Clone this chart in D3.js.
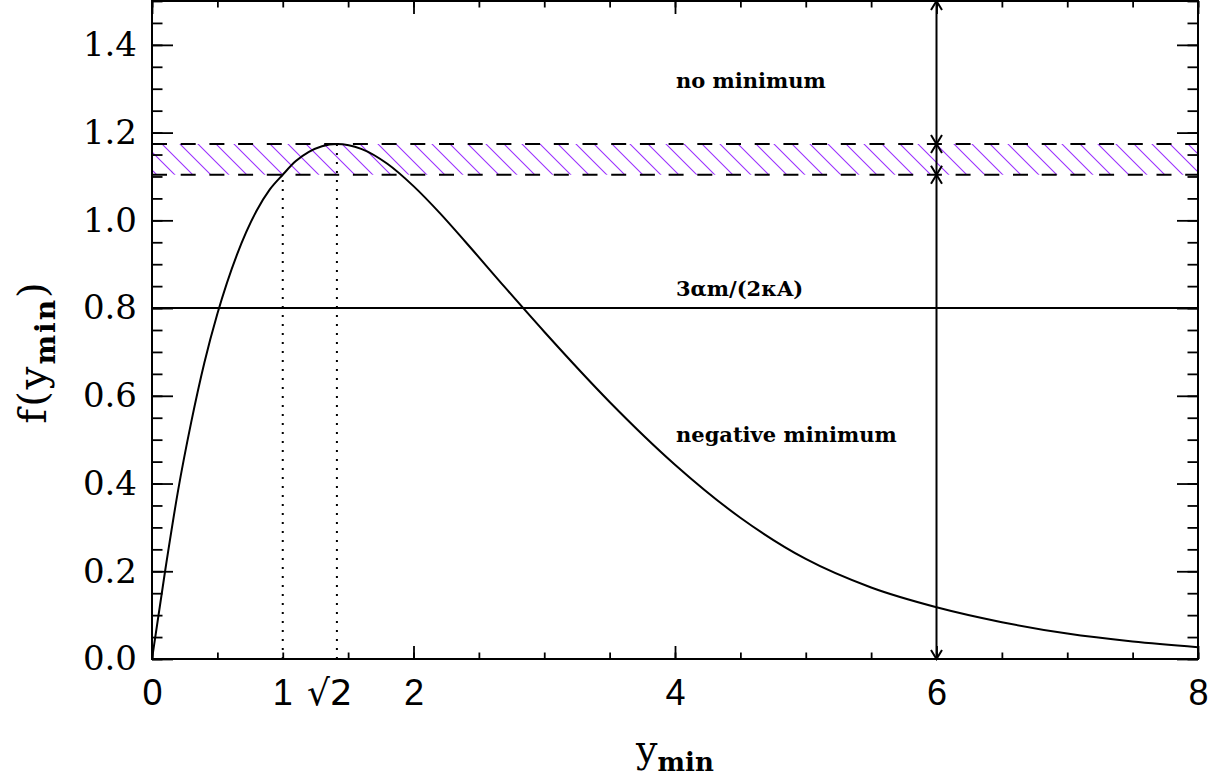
<!DOCTYPE html>
<html>
<head>
<meta charset="utf-8">
<style>
    body { margin: 0; background: #fff; }
    .tick line { stroke: #000; stroke-width: 1.8px; }
    .frame { fill: none; stroke: #000; stroke-width: 2px; }
    .ylab text { font: 34px "DejaVu Serif", serif; fill: #000; }
    .xlab text { font: 36px "Liberation Sans", Arial, sans-serif; fill: #000; }
    .note { font: bold 21px "DejaVu Serif", serif; fill: #000; }
</style>
</head>
<body>
<svg width="1221" height="782"></svg>
<script src="https://cdn.jsdelivr.net/npm/d3@7/dist/d3.min.js"></script>
<script>
// curve f(y_min)
var yMin = [0, 0.1, 0.2, 0.3, 0.4, 0.5, 0.65, 0.8, 0.9, 1.0, 1.1, 1.2, 1.3, 1.414,
            1.6, 1.8, 2.0, 2.2, 2.4, 2.7, 3.0, 3.5, 4.0, 4.5, 5.0, 5.5, 6.0, 6.5, 7.0, 7.5, 8.0];
var fVal = [0, 0.2, 0.385, 0.54, 0.675, 0.787, 0.922, 1.022, 1.07, 1.104, 1.135, 1.156, 1.169, 1.174,
            1.163, 1.129, 1.078, 1.017, 0.95, 0.847, 0.746, 0.586, 0.443, 0.322, 0.228, 0.163, 0.118,
            0.084, 0.058, 0.04, 0.027];

var xTicks = [0, 2, 4, 6, 8];
var xTickLabels = ["0", "2", "4", "6", "8"];
var yTicks = [0, 0.2, 0.4, 0.6, 0.8, 1.0, 1.2, 1.4];
var yTickLabels = ["0.0", "0.2", "0.4", "0.6", "0.8", "1.0", "1.2", "1.4"];

var guideX = [1, Math.SQRT2];       // dotted lines
var guideTop = [1.104, 1.174];
var bandLow = 1.104, bandHigh = 1.174;
var threshold = 0.8;
var arrowX = 6;
var notes = ["no minimum", "3\u03b1m/(2\u03baA)", "negative minimum"];

var svg = d3.select("svg"),
    pl = 152, pr = 1198, pt = 1, pb = 659;

var x = d3.scaleLinear().domain([0, 8]).range([pl, pr]);
var y = d3.scaleLinear().domain([0, 1.5]).range([pb, pt]);

var xMinor = d3.range(0, 8.001, 0.5),
    yMinor = d3.range(0, 1.5001, 0.05);

// hatch pattern
var defs = svg.append("defs");
defs.append("pattern")
    .attr("id", "hatch")
    .attr("patternUnits", "userSpaceOnUse")
    .attr("width", 18).attr("height", 18)
  .append("path")
    .attr("d", "M-2,-2L20,20M-20,-2L2,20M16,-2L38,20")
    .attr("stroke", "#9b30ff")
    .attr("stroke-width", 1.1);
defs.append("clipPath").attr("id", "plot")
  .append("rect").attr("x", pl).attr("y", pt).attr("width", pr - pl).attr("height", pb - pt);

// band
svg.append("rect")
    .attr("x", pl).attr("width", pr - pl)
    .attr("y", y(bandHigh)).attr("height", y(bandLow) - y(bandHigh))
    .attr("fill", "url(#hatch)");
svg.selectAll(".dash")
    .data([bandLow, bandHigh])
    .enter().append("line")
    .attr("x1", pl).attr("x2", pr)
    .attr("y1", function(d) { return y(d); })
    .attr("y2", function(d) { return y(d); })
    .attr("stroke", "#000").attr("stroke-width", 2)
    .attr("stroke-dasharray", "15,13.7");

// threshold line
svg.append("line")
    .attr("x1", pl).attr("x2", pr)
    .attr("y1", y(threshold)).attr("y2", y(threshold))
    .attr("stroke", "#000").attr("stroke-width", 2);

// dotted guides
svg.selectAll(".guide")
    .data(guideX)
    .enter().append("line")
    .attr("x1", function(d) { return x(d); })
    .attr("x2", function(d) { return x(d); })
    .attr("y1", y(0))
    .attr("y2", function(d, i) { return y(guideTop[i]); })
    .attr("stroke", "#000").attr("stroke-width", 2)
    .attr("stroke-dasharray", "2,7");

// curve
var line = d3.line()
    .x(function(d, i) { return x(yMin[i]); })
    .y(function(d) { return y(d); })
    .curve(d3.curveMonotoneX);
svg.append("path")
    .datum(fVal)
    .attr("d", line)
    .attr("fill", "none")
    .attr("stroke", "#000")
    .attr("stroke-width", 2)
    .attr("clip-path", "url(#plot)");

// arrows at x = 6
var ax = x(arrowX);
svg.append("line")
    .attr("x1", ax).attr("x2", ax)
    .attr("y1", y(1.5)).attr("y2", y(0))
    .attr("stroke", "#000").attr("stroke-width", 2);
var heads = [[1.5, -1], [bandHigh, 1], [bandHigh, -1], [bandLow, 1], [bandLow, -1], [0, 1]];
svg.selectAll(".head")
    .data(heads)
    .enter().append("path")
    .attr("d", function(d) {
        var py = y(d[0]), s = d[1] * 9;   // s>0 : pointing down
        return "M" + (ax - 5.5) + "," + (py - s) + "L" + ax + "," + py + "L" + (ax + 5.5) + "," + (py - s);
    })
    .attr("fill", "none").attr("stroke", "#000").attr("stroke-width", 2);

// axes
function strip(g) { g.select(".domain").remove(); }

svg.append("g").attr("transform", "translate(0," + pb + ")")
    .call(d3.axisBottom(x).tickValues(xMinor).tickSize(-6.5).tickFormat("")).call(strip);
svg.append("g").attr("class", "xlab").attr("transform", "translate(0," + pb + ")")
    .call(d3.axisBottom(x).tickValues(xTicks).tickSize(-13).tickPadding(20)
        .tickFormat(function(d, i) { return xTickLabels[i]; })).call(strip);
svg.append("g").attr("transform", "translate(0," + pt + ")")
    .call(d3.axisTop(x).tickValues(xMinor).tickSize(-6.5).tickFormat("")).call(strip);
svg.append("g").attr("transform", "translate(0," + pt + ")")
    .call(d3.axisTop(x).tickValues(xTicks).tickSize(-13).tickFormat("")).call(strip);

svg.append("g").attr("transform", "translate(" + pl + ",0)")
    .call(d3.axisLeft(y).tickValues(yMinor).tickSize(-10.5).tickFormat("")).call(strip);
svg.append("g").attr("class", "ylab").attr("transform", "translate(" + pl + ",0)")
    .call(d3.axisLeft(y).tickValues(yTicks).tickSize(-21).tickPadding(15)
        .tickFormat(function(d, i) { return yTickLabels[i]; })).call(strip);
svg.append("g").attr("transform", "translate(" + pr + ",0)")
    .call(d3.axisRight(y).tickValues(yMinor).tickSize(-10.5).tickFormat("")).call(strip);
svg.append("g").attr("transform", "translate(" + pr + ",0)")
    .call(d3.axisRight(y).tickValues(yTicks).tickSize(-21).tickFormat("")).call(strip);

svg.append("rect").attr("class", "frame")
    .attr("x", pl).attr("y", pt).attr("width", pr - pl).attr("height", pb - pt);

// extra labels under the guides
svg.append("text")
    .attr("x", x(guideX[0])).attr("y", 705)
    .attr("text-anchor", "middle")
    .style("font", "36px 'Liberation Sans', Arial, sans-serif")
    .text("1");
svg.append("text")
    .attr("x", x(guideX[1]) - 30).attr("y", 705)
    .style("font", "36px 'DejaVu Sans', sans-serif")
    .text("\u221a2");

// annotations
var noteY = [88, 296, 442];
svg.selectAll(".note")
    .data(notes)
    .enter().append("text")
    .attr("class", "note")
    .attr("x", 676)
    .attr("y", function(d, i) { return noteY[i]; })
    .text(function(d) { return d; });

// axis titles
var xt = svg.append("text")
    .attr("x", (pl + pr) / 2).attr("y", 762)
    .attr("text-anchor", "middle")
    .style("font", "38px 'DejaVu Serif', serif");
xt.append("tspan").text("y");
xt.append("tspan").attr("dy", 9).style("font", "bold 26px 'DejaVu Serif', serif").text("min");

var yt = svg.append("text")
    .attr("transform", "translate(46,352) rotate(-90)")
    .attr("text-anchor", "middle")
    .style("font", "40px 'DejaVu Serif', serif")
    .style("letter-spacing", "2px");
yt.append("tspan").text("f(y");
yt.append("tspan").attr("dy", 9).style("font", "bold 28px 'DejaVu Serif', serif").text("min");
yt.append("tspan").attr("dy", -9).text(")");
</script>
</body>
</html>
